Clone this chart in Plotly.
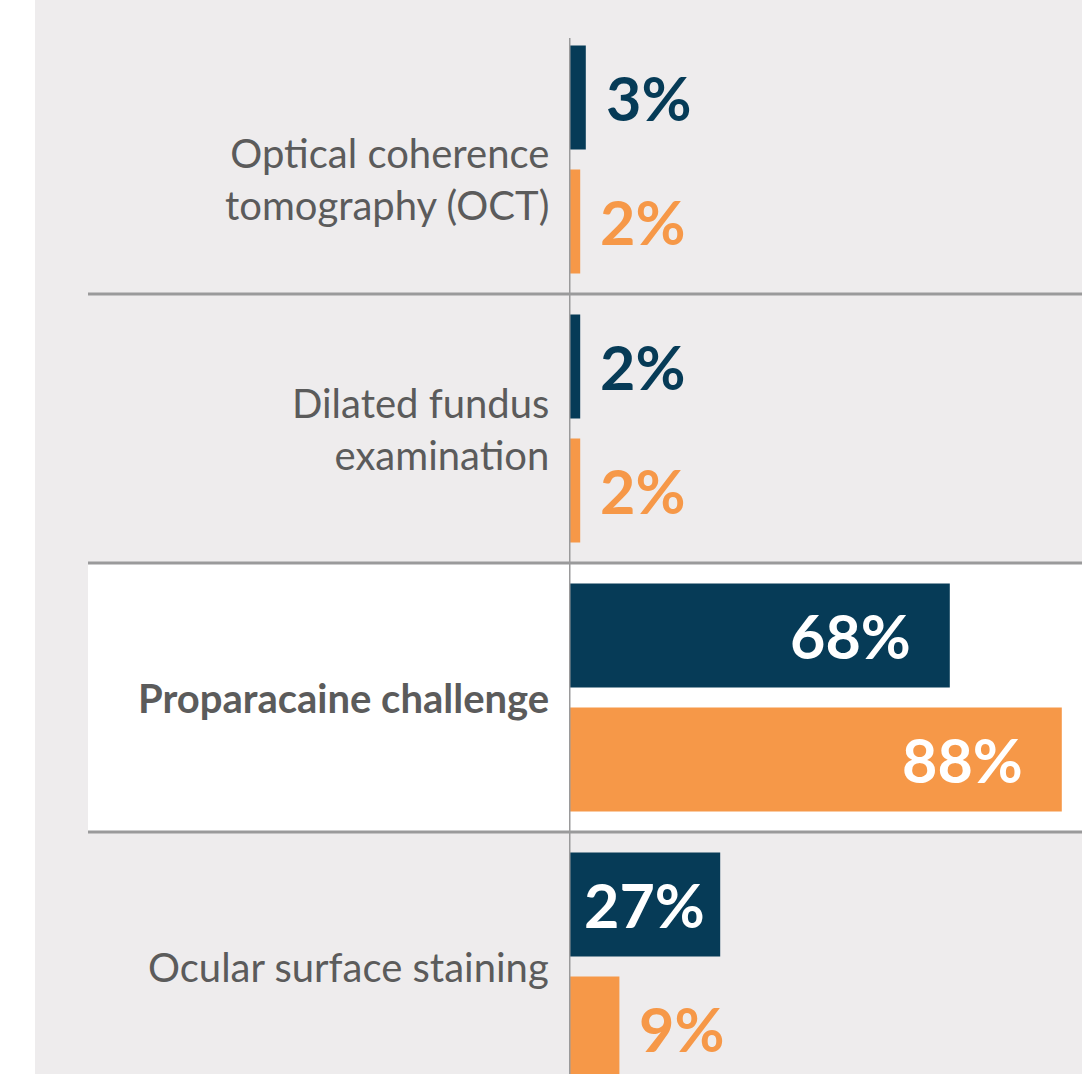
import plotly.graph_objects as go

# data
categories = ["Optical coherence<br>tomography (OCT)",
              "Dilated fundus<br>examination",
              "<b>Proparacaine challenge</b>",
              "Ocular surface staining"]
navy_values = [3, 2, 68, 27]
orange_values = [2, 2, 88, 9]

NAVY = "#063b57"
ORANGE = "#f69848"
BG = "#eeeced"
LINE = "#9a9a9b"
FONT = "Lato"
X0 = 569 / 1082  # left edge of the bar area

rows = list(range(len(categories)))

fig = go.Figure()
fig.add_trace(go.Bar(y=rows, x=navy_values, orientation="h",
                     marker=dict(color=NAVY, line_width=0), hoverinfo="skip"))
fig.add_trace(go.Bar(y=rows, x=orange_values, orientation="h",
                     marker=dict(color=ORANGE, line_width=0), hoverinfo="skip"))

annotations = []
# category labels (the first one sits a little low in the original)
for i, c in enumerate(categories):
    annotations.append(dict(
        x=X0, y=i, xref="paper", yref="y", text=c, showarrow=False,
        xanchor="right", yanchor="middle", align="right", xshift=-18,
        yshift=-20 if i == 0 else 0,
        font=dict(family=FONT, size=40, color="#5b5b5b")))

# value labels
for k, (vals, col) in enumerate([(navy_values, NAVY), (orange_values, ORANGE)]):
    off = -0.23 if k == 0 else 0.23
    for i, v in enumerate(vals):
        if v >= 50:
            a = dict(x=v, xanchor="right", xshift=-37, color="white")
        elif v >= 20:
            a = dict(x=v / 2, xanchor="center", xshift=0, color="white")
        else:
            a = dict(x=v, xanchor="left", xshift=18, color=col)
        annotations.append(dict(
            x=a["x"], y=i + off, xref="x", yref="y", text=f"<b>{v}%</b>",
            showarrow=False, xanchor=a["xanchor"], yanchor="middle", xshift=a["xshift"],
            font=dict(family=FONT, size=61, color=a["color"])))

shapes = [
    # grey panel
    dict(type="rect", xref="paper", yref="paper", x0=35 / 1082, x1=1, y0=0, y1=1,
         fillcolor=BG, line_width=0, layer="below"),
    # highlighted row
    dict(type="rect", xref="paper", yref="y", x0=88 / 1082, x1=1, y0=1.5, y1=2.5,
         fillcolor="white", line_width=0, layer="below"),
]
for s in [0.5, 1.5, 2.5]:
    shapes.append(dict(type="line", xref="paper", yref="y", x0=88 / 1082, x1=1, y0=s, y1=s,
                       line=dict(color=LINE, width=3), layer="above"))
shapes.append(dict(type="line", xref="x", yref="y", x0=0, x1=0, y0=-0.452, y1=3.5,
                   line=dict(color=LINE, width=3), layer="above"))

fig.update_layout(
    width=1082, height=1074,
    margin=dict(l=0, r=0, t=0, b=0),
    paper_bgcolor="white", plot_bgcolor="rgba(0,0,0,0)",
    barmode="group", bargap=0.078, bargroupgap=0.161,
    showlegend=False,
    shapes=shapes, annotations=annotations,
    font=dict(family=FONT),
)
fig.update_xaxes(domain=[X0, 1], range=[0, 513 / 5.6],
                 showgrid=False, zeroline=False, showticklabels=False, showline=False)
fig.update_yaxes(range=[3.3996, -0.5929], showticklabels=False,
                 showgrid=False, zeroline=False, showline=False, ticks="")

# drop the default page margin so the figure sits at the window corner
fig.write_html("out.html", config={"displayModeBar": False},
               post_script="document.body.style.margin='0';")
